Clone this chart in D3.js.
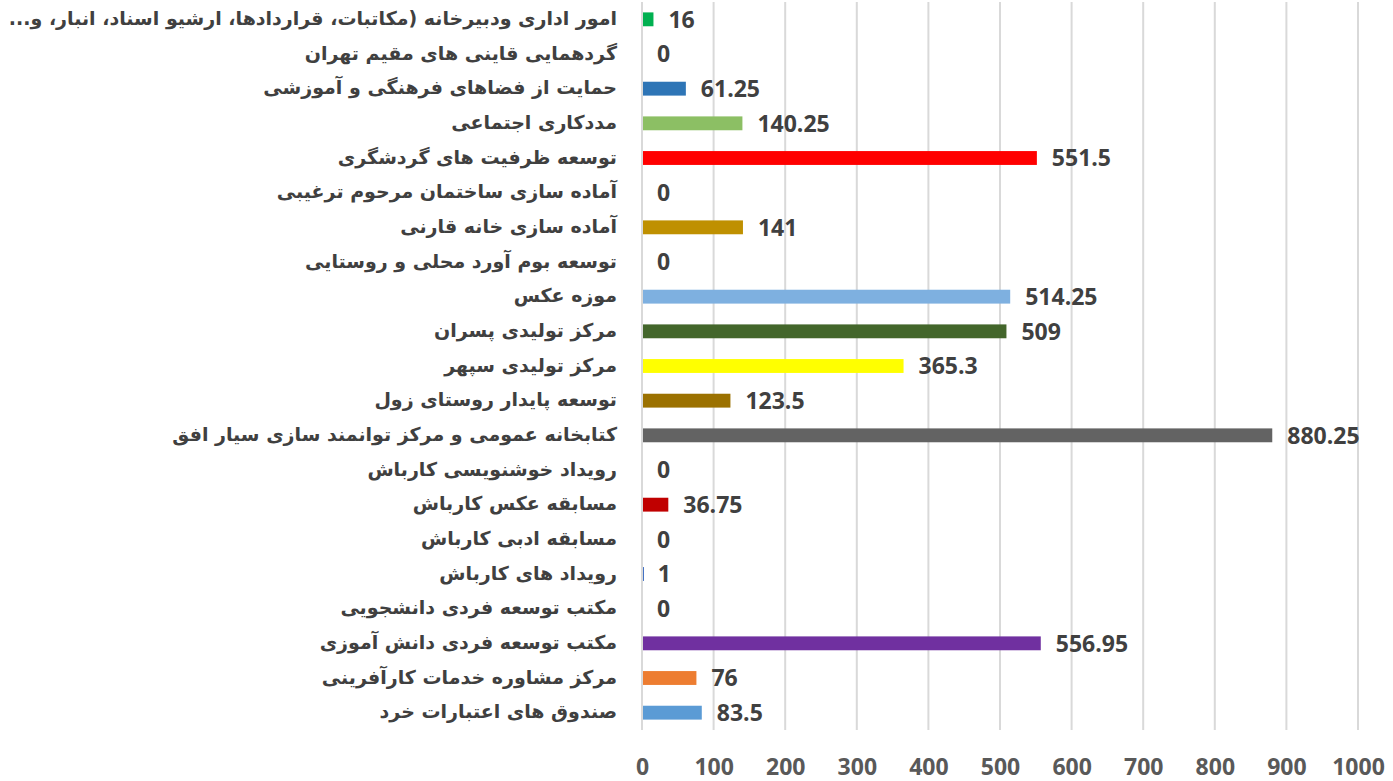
<!DOCTYPE html>
<html>
<head>
<meta charset="utf-8">
<script src="https://cdn.jsdelivr.net/npm/d3@7"></script>
<style>
  body { margin: 0; background: #fff; }
  svg { display: block; }
</style>
</head>
<body>
<div id="wrapper"></div>
<script>
// categories top to bottom
const categories = [
    "امور اداری ودبیرخانه (مکاتبات، قراردادها، ارشیو اسناد، انبار، و...",
    "گردهمایی قاینی های مقیم تهران",
    "حمایت از فضاهای فرهنگی و آموزشی",
    "مددکاری اجتماعی",
    "توسعه ظرفیت های گردشگری",
    "آماده سازی ساختمان مرحوم ترغیبی",
    "آماده سازی خانه قارنی",
    "توسعه بوم آورد محلی و روستایی",
    "موزه عکس",
    "مرکز تولیدی پسران",
    "مرکز تولیدی سپهر",
    "توسعه پایدار روستای زول",
    "کتابخانه عمومی و مرکز توانمند سازی سیار افق",
    "رویداد خوشنویسی کارباش",
    "مسابقه عکس کارباش",
    "مسابقه ادبی کارباش",
    "رویداد های کارباش",
    "مکتب توسعه فردی دانشجویی",
    "مکتب توسعه فردی دانش آموزی",
    "مرکز مشاوره خدمات کارآفرینی",
    "صندوق های اعتبارات خرد"
];
const values = [16, 0, 61.25, 140.25, 551.5, 0, 141, 0, 514.25, 509, 365.3, 123.5, 880.25, 0, 36.75, 0, 1, 0, 556.95, 76, 83.5];
const labels = ["16", "0", "61.25", "140.25", "551.5", "0", "141", "0", "514.25", "509", "365.3", "123.5", "880.25", "0", "36.75", "0", "1", "0", "556.95", "76", "83.5"];
const barColors = ["#00b050", "#ffffff", "#2e75b6", "#8cbf64", "#ff0000", "#ffffff", "#bf9000", "#ffffff", "#7eb0e0", "#43662b",
    "#ffff00", "#9b7100", "#636363", "#ffffff", "#c00000", "#ffffff", "#4472c4", "#ffffff", "#7030a0", "#ed7d31", "#5b9bd5"];
const xTicks = [0, 100, 200, 300, 400, 500, 600, 700, 800, 900, 1000];

const dimension = {
    width: 1393,
    height: 781,
    margin: { top: 2, left: 642, bottom: 51, right: 35 }
};
dimension.boundedWidth = dimension.width - dimension.margin.left - dimension.margin.right;
dimension.boundedHeight = dimension.height - dimension.margin.top - dimension.margin.bottom;

const svg = d3.select("#wrapper").append("svg")
    .attr("width", dimension.width)
    .attr("height", dimension.height);

const bounded = svg.append("g")
    .attr("transform", `translate(${dimension.margin.left},${dimension.margin.top})`);

const xScaler = d3.scaleLinear()
    .domain([0, 1000])
    .range([0, 716]);

const yScaler = d3.scaleBand()
    .domain(categories)
    .range([0, 728])
    .paddingInner(0.6)
    .paddingOuter(0.3);

// vertical grid
bounded.append("g")
    .selectAll("line")
    .data(xTicks)
    .join("line")
    .attr("x1", d => xScaler(d))
    .attr("x2", d => xScaler(d))
    .attr("y1", 0)
    .attr("y2", 728)
    .attr("stroke", "#d9d9d9")
    .attr("stroke-width", 2);

// bars
bounded.append("g")
    .selectAll("rect")
    .data(categories)
    .join("rect")
    .attr("x", xScaler(0) + 1)
    .attr("y", d => yScaler(d))
    .attr("width", (d, i) => values[i] > 0 ? Math.max(1, xScaler(values[i]) - xScaler(0) - 1) : 0)
    .attr("height", yScaler.bandwidth())
    .attr("fill", (d, i) => barColors[i]);

// value labels
bounded.append("g")
    .selectAll("text")
    .data(categories)
    .join("text")
    .attr("x", (d, i) => xScaler(values[i]) + 15)
    .attr("y", d => yScaler(d) + yScaler.bandwidth() / 2)
    .attr("dy", "0.36em")
    .style("font-family", "'Open Sans', 'DejaVu Sans', sans-serif")
    .style("font-weight", "bold")
    .style("font-size", "23px")
    .style("fill", "#404040")
    .text((d, i) => labels[i]);

// category labels (rtl, so "start" is the right edge)
bounded.append("g")
    .selectAll("text")
    .data(categories)
    .join("text")
    .attr("x", -25)
    .attr("y", d => yScaler(d) + yScaler.bandwidth() / 2)
    .attr("dy", "0.3em")
    .attr("text-anchor", "start")
    .attr("direction", "rtl")
    .style("font-family", "'DejaVu Sans', sans-serif")
    .style("font-weight", "bold")
    .style("font-size", "19px")
    .style("fill", "#404040")
    .text(d => d);

// x axis
const xAxis = d3.axisBottom(xScaler)
    .tickValues(xTicks)
    .tickFormat(d3.format("d"))
    .tickSize(0)
    .tickPadding(0);

const axisG = bounded.append("g")
    .attr("transform", "translate(0,765)")
    .call(xAxis);
axisG.select(".domain").remove();
axisG.selectAll("text")
    .attr("dy", "0.36em")
    .attr("y", 0)
    .style("font-family", "'Open Sans', 'DejaVu Sans', sans-serif")
    .style("font-weight", "bold")
    .style("font-size", "23px")
    .style("fill", "#595959");
</script>
</body>
</html>
